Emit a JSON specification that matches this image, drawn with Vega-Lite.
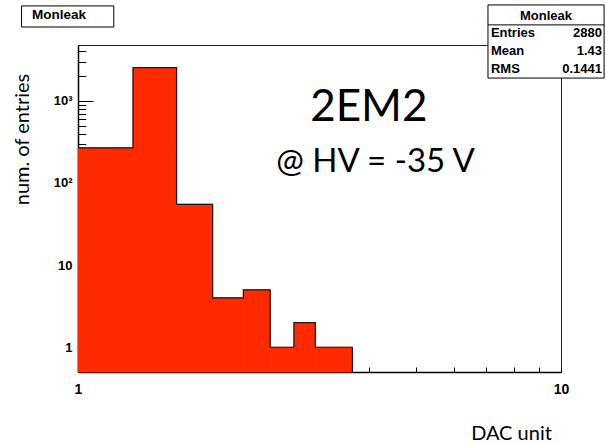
{
  "$schema": "https://vega.github.io/schema/vega-lite/v6.json",
  "autosize": {"type": "none"},
  "padding": {"left": 78, "top": 45, "right": 45, "bottom": 71},
  "width": 483,
  "height": 327,
  "config": {
    "view": {"stroke": "#222222", "strokeWidth": 1},
    "axis": {"zindex": 1, "grid": false, "domainColor": "#000000", "domainWidth": 1.5, "tickColor": "#000000", "tickWidth": 1, "labelColor": "#000000", "labelFont": "Liberation Sans", "labelFontWeight": "bold", "labelOverlap": false, "labelBound": false, "labelFlush": false}
  },
  "datasets": {
    "bins": [
      {"lo": 1.0, "hi": 1.3, "n": 268},
      {"lo": 1.3, "hi": 1.6, "n": 2530},
      {"lo": 1.6, "hi": 1.9, "n": 55},
      {"lo": 1.9, "hi": 2.2, "n": 4},
      {"lo": 2.2, "hi": 2.5, "n": 5},
      {"lo": 2.5, "hi": 2.8, "n": 1},
      {"lo": 2.8, "hi": 3.1, "n": 2},
      {"lo": 3.1, "hi": 3.4, "n": 1},
      {"lo": 3.4, "hi": 3.7, "n": 1}
    ],
    "stats": [
      {"title": "Monleak", "names": "Entries\nMean\nRMS", "vals": "2880\n1.43\n0.1441"}
    ],
    "notes": [
      {"line1": "2EM2", "line2": "@ HV = -35 V"}
    ]
  },
  "layer": [
    {
      "data": {"name": "bins"},
      "mark": {"type": "rect", "fill": "#ff2a00", "stroke": "#ff2a00", "strokeWidth": 0.8},
      "encoding": {
        "x": {
          "field": "lo", "type": "quantitative",
          "scale": {"type": "log", "domain": [1, 10], "nice": false},
          "axis": {
            "title": "DAC unit",
            "titleFont": "Lato", "titleFontSize": 20, "titleFontWeight": "normal", "titleColor": "#000000",
            "titleX": 433, "titleY": 67, "titleAlign": "center", "titleBaseline": "alphabetic", "titleAnchor": null,
            "values": [1, 2, 3, 4, 5, 6, 7, 8, 9, 10],
            "tickSize": -5,
            "labelPadding": 15,
            "labelBaseline": "top",
            "labelFontSize": 14,
            "labelExpr": "datum.value == 1 ? '1' : datum.value == 10 ? '10' : ''"
          }
        },
        "x2": {"field": "hi"},
        "y": {
          "field": "n", "type": "quantitative",
          "scale": {"type": "log", "domain": [0.5, 4780], "nice": false},
          "axis": {
            "title": "num. of entries",
            "titleFont": "Lato", "titleFontSize": 20, "titleFontWeight": "normal", "titleColor": "#000000",
            "titleAngle": -90, "titleX": -50, "titleY": 94, "titleAlign": "center", "titleBaseline": "alphabetic", "titleAnchor": null,
            "values": [0.6, 0.7, 0.8, 0.9, 1, 2, 3, 4, 5, 6, 7, 8, 9, 10, 20, 30, 40, 50, 60, 70, 80, 90, 100, 200, 300, 400, 500, 600, 700, 800, 900, 1000, 2000, 3000, 4000],
            "tickSize": {"condition": {"test": "datum.value == 1 || datum.value == 10 || datum.value == 100 || datum.value == 1000", "value": -15}, "value": -7.7},
            "labelPadding": 21,
            "labelFontSize": 13,
            "labelBaseline": "middle",
            "labelExpr": "datum.value == 1 ? '1' : datum.value == 10 ? '10' : datum.value == 100 ? '10²' : datum.value == 1000 ? '10³' : ''"
          }
        },
        "y2": {"datum": 0.5}
      }
    },
    {
      "data": {"name": "bins"},
      "transform": [{"fold": ["lo", "hi"], "as": ["side", "edge"]}],
      "mark": {"type": "line", "color": "#1a1a1a", "strokeWidth": 1.2, "interpolate": "linear"},
      "encoding": {
        "x": {"field": "edge", "type": "quantitative"},
        "y": {"field": "n", "type": "quantitative"},
        "order": [{"field": "edge", "type": "quantitative"}, {"field": "side", "type": "ordinal"}]
      }
    },
    {
      "data": {"name": "bins"},
      "transform": [
        {"joinaggregate": [{"op": "max", "field": "hi", "as": "last"}]},
        {"filter": "datum.hi == datum.last"}
      ],
      "mark": {"type": "rule", "color": "#1a1a1a", "strokeWidth": 1.2},
      "encoding": {
        "x": {"field": "hi", "type": "quantitative"},
        "y": {"field": "n", "type": "quantitative"},
        "y2": {"datum": 0.5}
      }
    },
    {
      "data": {"name": "stats"},
      "mark": {"type": "rect", "fill": "#ffffff", "stroke": "#000000", "strokeWidth": 1},
      "encoding": {"x": {"datum": 0.764, "type": "quantitative"}, "x2": {"datum": 1.186}, "y": {"datum": 14290, "type": "quantitative"}, "y2": {"datum": 7920}}
    },
    {
      "data": {"name": "stats"},
      "mark": {"type": "text", "font": "Liberation Sans", "fontWeight": "bold", "fontSize": 13.5, "align": "center", "baseline": "middle", "color": "#000000"},
      "encoding": {"x": {"datum": 0.913, "type": "quantitative"}, "y": {"datum": 10940, "type": "quantitative"}, "text": {"field": "title"}}
    },
    {
      "data": {"name": "stats"},
      "mark": {"type": "rect", "fill": "#ffffff", "stroke": "#000000", "strokeWidth": 1},
      "encoding": {"x": {"datum": 7.06, "type": "quantitative"}, "x2": {"datum": 12.28}, "y": {"datum": 14690, "type": "quantitative"}, "y2": {"datum": 1892}}
    },
    {
      "data": {"name": "stats"},
      "mark": {"type": "rule", "color": "#000000", "strokeWidth": 1},
      "encoding": {"x": {"datum": 7.06, "type": "quantitative"}, "x2": {"datum": 12.28}, "y": {"datum": 8400, "type": "quantitative"}}
    },
    {
      "data": {"name": "stats"},
      "mark": {"type": "text", "font": "Liberation Sans", "fontWeight": "bold", "fontSize": 13, "align": "center", "baseline": "alphabetic", "color": "#000000"},
      "encoding": {"x": {"datum": 9.31, "type": "quantitative"}, "y": {"datum": 9640, "type": "quantitative"}, "text": {"field": "title"}}
    },
    {
      "data": {"name": "stats"},
      "mark": {"type": "text", "font": "Liberation Sans", "fontWeight": "bold", "fontSize": 13, "align": "left", "baseline": "alphabetic", "lineBreak": "\n", "lineHeight": 18.3, "color": "#000000"},
      "encoding": {"x": {"datum": 7.16, "type": "quantitative"}, "y": {"datum": 6030, "type": "quantitative"}, "text": {"field": "names"}}
    },
    {
      "data": {"name": "stats"},
      "mark": {"type": "text", "font": "Liberation Sans", "fontWeight": "bold", "fontSize": 13, "align": "right", "baseline": "alphabetic", "lineBreak": "\n", "lineHeight": 18.3, "color": "#000000"},
      "encoding": {"x": {"datum": 12.16, "type": "quantitative"}, "y": {"datum": 6030, "type": "quantitative"}, "text": {"field": "vals"}}
    },
    {
      "data": {"name": "notes"},
      "mark": {"type": "text", "font": "Lato", "fontSize": 44, "align": "center", "baseline": "alphabetic", "color": "#000000"},
      "encoding": {"x": {"datum": 4.0, "type": "quantitative"}, "y": {"datum": 565, "type": "quantitative"}, "text": {"field": "line1"}}
    },
    {
      "data": {"name": "notes"},
      "mark": {"type": "text", "font": "Lato", "fontSize": 33, "align": "center", "baseline": "alphabetic", "color": "#000000"},
      "encoding": {"x": {"datum": 4.13, "type": "quantitative"}, "y": {"datum": 136, "type": "quantitative"}, "text": {"field": "line2"}}
    }
  ]
}
